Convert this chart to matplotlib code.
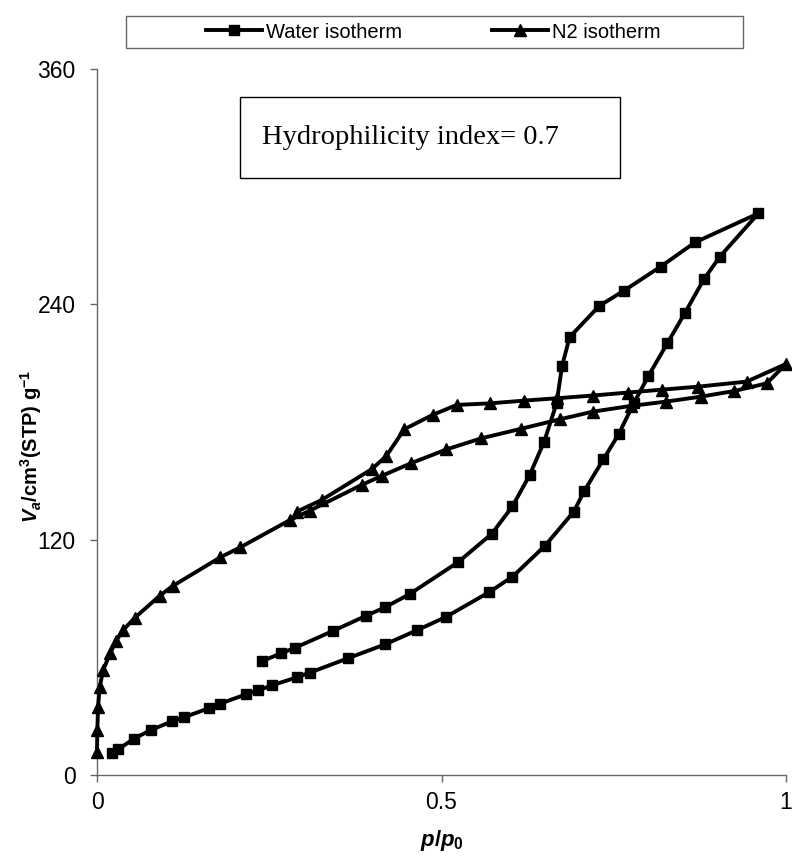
import matplotlib
matplotlib.use("Agg")
import matplotlib.pyplot as plt
from matplotlib.patches import Rectangle

plt.rcParams['font.family'] = ['Liberation Sans', 'DejaVu Sans']
plt.rcParams['mathtext.fontset'] = 'custom'
plt.rcParams['mathtext.rm'] = 'Liberation Sans:bold'
plt.rcParams['mathtext.it'] = 'Liberation Sans:bold:italic'
plt.rcParams['mathtext.bf'] = 'Liberation Sans:bold'

# Water isotherm: adsorption (ascending) then desorption (descending)
water_x = [0.022, 0.031, 0.053, 0.078, 0.109, 0.126, 0.162, 0.179, 0.216, 0.234,
           0.254, 0.290, 0.309, 0.364, 0.418, 0.465, 0.507, 0.569, 0.603, 0.650,
           0.692, 0.707, 0.735, 0.757, 0.779, 0.800, 0.828, 0.853, 0.881, 0.904,
           0.960,
           0.868, 0.818, 0.765, 0.729, 0.686, 0.675, 0.667, 0.649, 0.628, 0.603,
           0.573, 0.524, 0.454, 0.418, 0.390, 0.342, 0.287, 0.267, 0.239]
water_y = [11.4, 13.1, 18.4, 22.9, 27.4, 29.4, 34.0, 36.4, 41.1, 43.2,
           45.7, 49.8, 52.2, 59.5, 66.6, 73.9, 80.7, 93.2, 101.1, 116.8,
           134.3, 144.7, 161.0, 173.7, 189.5, 203.3, 220.3, 235.4, 252.9, 264.3,
           286.4,
           271.6, 259.2, 247.0, 239.2, 223.3, 208.6, 189.5, 170.0, 153.0, 137.0,
           123.0, 108.5, 92.3, 85.5, 81.1, 73.4, 64.8, 62.0, 58.0]

# N2 isotherm: adsorption then desorption
n2_x = [0.0, 0.0005, 0.0015, 0.004, 0.009, 0.019, 0.028, 0.038, 0.055, 0.091,
        0.110, 0.179, 0.208, 0.280, 0.309, 0.384, 0.413, 0.456, 0.507, 0.558,
        0.615, 0.672, 0.720, 0.775, 0.826, 0.876, 0.925, 0.972, 1.0,
        0.943, 0.872, 0.820, 0.770, 0.720, 0.667, 0.620, 0.570, 0.522, 0.487,
        0.446, 0.420, 0.399, 0.326, 0.290]
n2_y = [11.9, 23.0, 34.8, 45.0, 53.5, 62.0, 68.5, 73.9, 80.2, 91.4,
        96.4, 111.0, 116.1, 130.0, 134.8, 147.9, 152.5, 159.0, 166.0, 171.7,
        176.5, 181.4, 185.3, 188.2, 190.4, 192.9, 195.8, 199.7, 209.6,
        200.6, 198.0, 196.5, 195.0, 193.5, 192.1, 190.9, 189.5, 188.7, 183.6,
        176.3, 162.7, 156.0, 140.2, 134.3]

x_ticks = [0, 0.5, 1]
x_tick_labels = ['0', '0.5', '1']
y_ticks = [0, 120, 240, 360]

W, H = 792, 859
GRAY = '#666666'
fig = plt.figure(figsize=(W / 100, H / 100), dpi=100)
ax = fig.add_axes([97 / W, 1 - 775 / H, 689 / W, 706 / H])

l1, = ax.plot(water_x, water_y, color='black', lw=2.8, marker='s', ms=7.5,
              clip_on=False, label='Water isotherm', zorder=3)
l2, = ax.plot(n2_x, n2_y, color='black', lw=2.8, marker='^', ms=8.5,
              clip_on=False, label='N2 isotherm', zorder=3)

ax.set_xlim(0, 1)
ax.set_ylim(0, 360)
ax.set_xticks(x_ticks)
ax.set_xticklabels(x_tick_labels)
ax.set_yticks(y_ticks)
for s in ['top', 'right']:
    ax.spines[s].set_visible(False)
for s in ['left', 'bottom']:
    ax.spines[s].set_color(GRAY)
    ax.spines[s].set_linewidth(1.0)
ax.tick_params(direction='out', length=5.3, width=1, color=GRAY,
               labelsize=16.5)
ax.tick_params(axis='y', pad=10)
ax.tick_params(axis='x', pad=6.5)

ax.set_ylabel(r'$V_a$/cm$^3$(STP) g$^{-1}$', fontsize=14.5, fontweight='bold')
ax.yaxis.set_label_coords(-0.077, 0.466)
ax.set_xlabel(r'$p/p_0$', fontsize=16)
ax.xaxis.set_label_coords(0.5, -0.075)

# annotation box (Excel-style text box, left-aligned text)
bx0, bx1, by0, by1 = 0.2075, 0.759, 304.4, 345.7
ax.add_patch(Rectangle((bx0, by0), bx1 - bx0, by1 - by0,
                       facecolor='white', edgecolor='black', lw=1.0, zorder=4))
ax.text(0.2395, (by0 + by1) / 2, 'Hydrophilicity index= 0.7',
        family='Liberation Serif', fontsize=20.5, ha='left', va='center',
        zorder=5)

# legend (frame drawn separately to match the wide box)
leg = fig.legend(handles=[l1, l2], loc='center',
                 bbox_to_anchor=(433.5 / W, 1 - 32 / H), ncol=2, fontsize=14.5,
                 frameon=False, handlelength=2.78,
                 columnspacing=4.47, handletextpad=0.2, borderpad=0.3)
fig.add_artist(Rectangle((126 / W, 1 - 48 / H), 617 / W, 32 / H,
                         transform=fig.transFigure, facecolor='none',
                         edgecolor=GRAY, lw=1.0))

fig.savefig('out.png', dpi=100)
